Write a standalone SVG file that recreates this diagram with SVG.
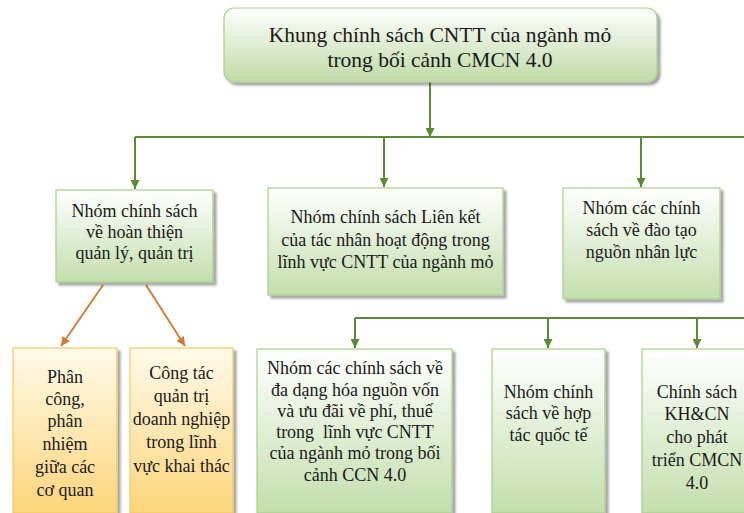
<svg xmlns="http://www.w3.org/2000/svg" width="744" height="513" viewBox="0 0 744 513">
<defs>
<linearGradient id="gGreen" x1="0" y1="0" x2="0" y2="1">
<stop offset="0" stop-color="#ffffff"/>
<stop offset="1" stop-color="#c3dfac"/>
</linearGradient>
<linearGradient id="gTop" x1="0" y1="0" x2="0" y2="1">
<stop offset="0" stop-color="#ffffff"/>
<stop offset="1" stop-color="#bfdba6"/>
</linearGradient>
<linearGradient id="gYellow" x1="0" y1="0" x2="0" y2="1">
<stop offset="0" stop-color="#fffaea"/>
<stop offset="1" stop-color="#fcd57a"/>
</linearGradient>
<filter id="sh" x="-10%" y="-10%" width="130%" height="130%">
<feDropShadow dx="3" dy="3" stdDeviation="1.2" flood-color="#000" flood-opacity="0.35"/>
</filter>
<marker id="aG" viewBox="0 0 10 10" refX="10" refY="5" markerWidth="9" markerHeight="9" markerUnits="userSpaceOnUse" orient="auto">
<path d="M0,0 L10,5 L0,10 Z" fill="#5a8a34"/>
</marker>
<marker id="aO" viewBox="0 0 10 10" refX="10" refY="5" markerWidth="9" markerHeight="9" markerUnits="userSpaceOnUse" orient="auto">
<path d="M0,0 L10,5 L0,10 Z" fill="#d8762f"/>
</marker>
</defs>
<style>
text{font-family:"Liberation Serif","Times New Roman",serif;fill:#1a1a1a;text-anchor:middle}
.t0{font-size:21.5px}
.t1{font-size:18px}
.box{fill:url(#gGreen);stroke:#a9cf8a;stroke-width:1.2;filter:url(#sh)}
.ybox{fill:url(#gYellow);stroke:#f5c85a;stroke-width:1.2;filter:url(#sh)}
.cg{fill:none;stroke:#5a8a34;stroke-width:2}
.co{fill:none;stroke:#d8762f;stroke-width:1.8}
</style>
<rect width="744" height="513" fill="#ffffff"/>

<g id="connectors">
<line class="cg" x1="430" y1="82" x2="430" y2="137" marker-end="url(#aG)"/>
<line class="cg" x1="135" y1="137" x2="744" y2="137"/>
<line class="cg" x1="135" y1="137" x2="135" y2="189" marker-end="url(#aG)"/>
<line class="cg" x1="384" y1="137" x2="384" y2="187" marker-end="url(#aG)"/>
<line class="cg" x1="641" y1="137" x2="641" y2="187" marker-end="url(#aG)"/>
<line class="co" x1="103" y1="285" x2="61" y2="346" marker-end="url(#aO)"/>
<line class="co" x1="146" y1="285" x2="185" y2="346" marker-end="url(#aO)"/>
<line class="cg" x1="355" y1="318" x2="744" y2="318"/>
<line class="cg" x1="355" y1="318" x2="355" y2="348" marker-end="url(#aG)"/>
<line class="cg" x1="548" y1="318" x2="548" y2="348" marker-end="url(#aG)"/>
<line class="cg" x1="697" y1="318" x2="697" y2="348" marker-end="url(#aG)"/>
</g>

<g id="root">
<rect x="224" y="8" width="433" height="74" rx="10" fill="url(#gTop)" stroke="#a9cf8a" stroke-width="1.2" filter="url(#sh)"/>
<text class="t0" x="440" y="42">Khung chính sách CNTT của ngành mỏ</text>
<text class="t0" x="440" y="67">trong bối cảnh CMCN 4.0</text>
</g>

<g id="nodeA">
<rect class="box" x="56" y="190" width="157" height="92"/>
<text class="t1" x="134.5" y="217">Nhóm chính sách</text>
<text class="t1" x="134.5" y="238">về hoàn thiện</text>
<text class="t1" x="134.5" y="259">quản lý, quản trị</text>
</g>

<g id="nodeB">
<rect class="box" x="268" y="188" width="235" height="107"/>
<text class="t1" x="385.5" y="223">Nhóm chính sách Liên kết</text>
<text class="t1" x="385.5" y="246">của tác nhân hoạt động trong</text>
<text class="t1" x="385.5" y="268">lĩnh vực CNTT của ngành mỏ</text>
</g>

<g id="nodeC">
<rect class="box" x="563" y="188" width="157" height="111"/>
<text class="t1" x="641.5" y="214">Nhóm các chính</text>
<text class="t1" x="641.5" y="236">sách về đào tạo</text>
<text class="t1" x="641.5" y="258">nguồn nhân lực</text>
</g>

<g id="nodeD">
<rect class="ybox" x="13" y="348" width="104" height="165"/>
<text class="t1" x="65" y="383">Phân</text>
<text class="t1" x="65" y="405">công,</text>
<text class="t1" x="65" y="427">phân</text>
<text class="t1" x="65" y="450">nhiệm</text>
<text class="t1" x="65" y="473">giữa các</text>
<text class="t1" x="65" y="496">cơ quan</text>
</g>

<g id="nodeE">
<rect class="ybox" x="130" y="348" width="103" height="165"/>
<text class="t1" x="181.5" y="379">Công tác</text>
<text class="t1" x="181.5" y="402">quản trị</text>
<text class="t1" x="181.5" y="425">doanh nghiệp</text>
<text class="t1" x="181.5" y="448">trong lĩnh</text>
<text class="t1" x="181.5" y="472">vực khai thác</text>
</g>

<g id="nodeF">
<rect class="box" x="257" y="349" width="195" height="164"/>
<text class="t1" x="355" y="374">Nhóm các chính sách về</text>
<text class="t1" x="355" y="396">đa dạng hóa nguồn vốn</text>
<text class="t1" x="355" y="417">và ưu đãi về phí, thuế</text>
<text class="t1" x="355" y="438" xml:space="preserve">trong  lĩnh vực CNTT</text>
<text class="t1" x="355" y="459">của ngành mỏ trong bối</text>
<text class="t1" x="355" y="481">cảnh CCN 4.0</text>
</g>

<g id="nodeG">
<rect class="box" x="492" y="349" width="113" height="164"/>
<text class="t1" x="548.5" y="398">Nhóm chính</text>
<text class="t1" x="548.5" y="419">sách về hợp</text>
<text class="t1" x="548.5" y="441">tác quốc tế</text>
</g>

<g id="nodeH">
<rect class="box" x="642" y="349" width="110" height="164"/>
<text class="t1" x="697" y="398">Chính sách</text>
<text class="t1" x="697" y="420">KH&amp;CN</text>
<text class="t1" x="697" y="443">cho phát</text>
<text class="t1" x="697" y="466">triển CMCN</text>
<text class="t1" x="697" y="489">4.0</text>
</g>
</svg>
